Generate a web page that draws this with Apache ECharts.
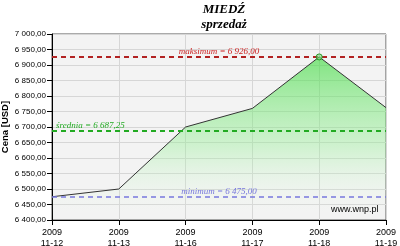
<!DOCTYPE html>
<html><head><meta charset="utf-8">
<script src="https://cdn.jsdelivr.net/npm/echarts@6/dist/echarts.min.js"></script>
<style>html,body{margin:0;padding:0;background:#fff}#c{width:400px;height:246px}</style>
</head><body><div id="c"></div>
<script>
const categories = ['2009\n11-12','2009\n11-13','2009\n11-16','2009\n11-17','2009\n11-18','2009\n11-19'];
const prices = [6475, 6500, 6700, 6760, 6926, 6762.5];
const maxValue = 6926.00;
const avgValue = 6687.25;
const minValue = 6475.00;
const titleText = 'MIEDŹ';
const subtitleText = 'sprzedaż';
const yAxisName = 'Cena [USD]';
const sourceText = 'www.wnp.pl';

function fmt(v){
  const s = v.toFixed(2).split('.');
  const ip = s[0].replace(/\B(?=(\d{3})+(?!\d))/g,' ');
  return ip + ',' + s[1];
}
const chart = echarts.init(document.getElementById('c'));
const serif = '"Liberation Serif", "DejaVu Serif", serif';
const sans = '"Liberation Sans", Arial, sans-serif';
chart.setOption({
  animation:false,
  backgroundColor:'#fff',
  title:[
    {text:titleText, left:219, top:-2, textAlign:'center', textStyle:{fontFamily:serif, fontStyle:'italic', fontWeight:'bold', fontSize:13, color:'#000'}},
    {text:subtitleText, left:219, top:13, textAlign:'center', textStyle:{fontFamily:serif, fontStyle:'italic', fontWeight:'bold', fontSize:13, color:'#000'}}
  ],
  graphic:[
    {type:'rect', shape:{x:52,y:34,width:334,height:186}, style:{fill:'#f3f3f3', stroke:'#555', lineWidth:1}, z:-1, silent:true},
    {type:'text', left:331, top:205, style:{text:sourceText, font:'9px ' + sans, fill:'#000'}, z:10}
  ],
  grid:{left:52, right:14, top:34, bottom:26, containLabel:false, outerBoundsMode:'none'},
  xAxis:{
    type:'category', data:categories, boundaryGap:false,
    axisLine:{lineStyle:{color:'#000'}},
    axisTick:{show:true, alignWithLabel:true, lineStyle:{color:'#000'}, length:5},
    axisLabel:{fontFamily:sans, fontSize:9, color:'#000', lineHeight:11, margin:7, interval:0},
    splitLine:{show:true, lineStyle:{color:'#d6d6d6'}}
  },
  yAxis:{
    type:'value', min:6400, max:7000, interval:50,
    name:yAxisName, nameLocation:'middle', nameGap:42, nameMoveOverlap:false,
    nameTextStyle:{fontFamily:sans, fontWeight:'bold', fontSize:9.5, color:'#000'},
    axisLine:{show:true, lineStyle:{color:'#000'}},
    axisTick:{show:true, lineStyle:{color:'#000'}, length:5},
    axisLabel:{formatter:fmt, fontFamily:sans, fontSize:8, color:'#000', margin:6},
    splitLine:{show:true, lineStyle:{color:'#d6d6d6'}}
  },
  series:[{
    type:'line', data:prices,
    lineStyle:{color:'#333', width:1},
    symbol:'none',
    areaStyle:{color:new echarts.graphic.LinearGradient(0,0,0,1,[
      {offset:0, color:'rgba(70,220,70,0.95)'},
      {offset:0.55, color:'rgba(150,240,150,0.55)'},
      {offset:1, color:'rgba(255,255,255,0)'}
    ])},
    markPoint:{
      symbol:'circle', symbolSize:6,
      itemStyle:{color:'rgba(120,220,120,0.6)', borderColor:'#2a9a2a', borderWidth:1},
      label:{show:false},
      data:[{coord:[4, maxValue]}]
    },
    markLine:{
      silent:true, symbol:'none',
      data:[
        {yAxis:maxValue, lineStyle:{color:'#b22222', type:[5,4], width:2},
         label:{position:'insideMiddleTop', formatter:'maksimum = ' + fmt(maxValue), color:'#cc2222', fontFamily:serif, fontStyle:'italic', fontSize:9, distance:1}},
        {yAxis:avgValue, lineStyle:{color:'#22aa22', type:[5,4], width:2},
         label:{position:'insideStartTop', formatter:'średnia = ' + fmt(avgValue), color:'#22aa22', fontFamily:serif, fontStyle:'italic', fontSize:9, distance:1, padding:[0,0,0,3]}},
        {yAxis:minValue, lineStyle:{color:'#7777dd', type:[5,4], width:1.5},
         label:{position:'insideMiddleTop', formatter:'minimum = ' + fmt(minValue), color:'#7777dd', fontFamily:serif, fontStyle:'italic', fontSize:9, distance:1}}
      ]
    }
  }]
});
</script></body></html>
